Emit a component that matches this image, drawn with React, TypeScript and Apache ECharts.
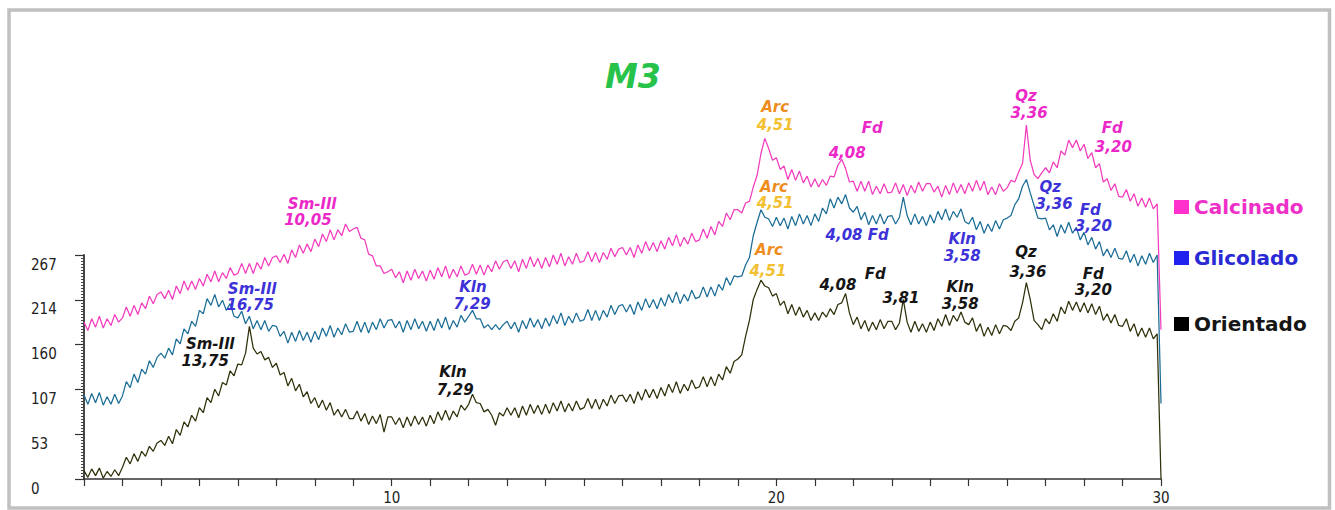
import React, { useEffect, useRef } from "react";
import * as echarts from "echarts";

// 2θ scale of the scan
const twoThetaStart = 2;
const twoThetaStep = 0.1;
const xLabelValues = [10, 20, 30];
const yTickLabels = ["0", "53", "107", "160", "214", "267"];
const seriesNames = ["Calcinado", "Glicolado", "Orientado"];

// intensities, one value every 0.1° from 2° to 30°
const calcinado = [
  187, 177, 191, 181, 194, 180, 191, 183, 196, 187,
  192, 205, 194, 207, 196, 210, 203, 218, 209, 220,
  223, 215, 225, 214, 230, 221, 236, 225, 236, 226,
  239, 230, 244, 235, 248, 235, 246, 239, 252, 243,
  245, 257, 245, 257, 245, 258, 250, 264, 254, 264,
  266, 258, 268, 257, 273, 264, 279, 269, 280, 271,
  286, 277, 292, 283, 297, 285, 297, 290, 304, 295,
  298, 300, 287, 285, 268, 266, 254, 254, 245, 247,
  250, 240, 247, 234, 248, 237, 250, 239, 248, 236,
  249, 238, 252, 241, 254, 239, 250, 241, 254, 243,
  245, 256, 244, 255, 243, 255, 247, 260, 250, 259,
  261, 251, 260, 247, 262, 251, 265, 253, 263, 251,
  264, 253, 267, 256, 269, 254, 265, 256, 269, 258,
  260, 271, 259, 270, 258, 270, 262, 275, 265, 274,
  276, 267, 276, 264, 279, 269, 283, 272, 282, 271,
  284, 274, 288, 278, 291, 277, 288, 280, 293, 283,
  285, 298, 287, 301, 291, 307, 301, 317, 309, 321,
  321, 317, 329, 331, 348, 362, 388, 406, 394, 380,
  383, 369, 373, 357, 369, 356, 367, 353, 361, 348,
  358, 348, 357, 350, 361, 360, 374, 381, 370, 354,
  355, 343, 355, 343, 355, 339, 349, 340, 352, 341,
  342, 353, 340, 351, 338, 350, 341, 354, 343, 352,
  352, 342, 349, 336, 350, 339, 353, 341, 351, 340,
  353, 343, 356, 344, 355, 339, 348, 339, 352, 343,
  347, 356, 354, 366, 376, 422, 380, 363, 358, 365,
  371, 365, 378, 371, 391, 386, 404, 395, 404, 391,
  399, 382, 389, 371, 376, 354, 358, 344, 352, 337,
  336, 345, 331, 340, 325, 335, 324, 335, 322, 328,
  178,
];

const glicolado = [
  100, 89, 102, 91, 103, 88, 98, 89, 101, 90,
  99, 116, 109, 125, 115, 131, 125, 141, 133, 145,
  150, 144, 156, 148, 167, 161, 179, 173, 188, 182,
  201, 197, 215, 207, 220, 205, 213, 201, 209, 194,
  192, 200, 185, 194, 179, 189, 178, 189, 176, 183,
  182, 170, 176, 162, 175, 164, 177, 165, 175, 163,
  176, 166, 180, 170, 183, 169, 180, 172, 185, 175,
  176, 188, 175, 187, 174, 187, 178, 191, 180, 189,
  190, 180, 188, 175, 189, 178, 191, 179, 188, 176,
  188, 177, 191, 180, 193, 178, 189, 181, 195, 187,
  194, 201, 191, 191, 180, 184, 178, 184, 178, 184,
  188, 179, 187, 175, 189, 179, 192, 181, 190, 179,
  192, 182, 195, 185, 198, 183, 194, 186, 198, 188,
  190, 202, 189, 201, 189, 201, 193, 207, 196, 206,
  208, 199, 208, 196, 211, 201, 215, 204, 214, 203,
  216, 206, 220, 210, 223, 209, 220, 212, 225, 215,
  217, 229, 217, 229, 218, 232, 225, 240, 231, 242,
  241, 242, 255, 264, 290, 306, 321, 312, 310, 301,
  312, 302, 311, 298, 313, 302, 316, 304, 314, 302,
  316, 307, 323, 316, 334, 323, 336, 328, 339, 323,
  318, 325, 309, 318, 303, 314, 304, 316, 304, 313,
  314, 304, 312, 336, 314, 303, 316, 304, 313, 302,
  315, 305, 319, 309, 322, 308, 319, 312, 322, 307,
  304, 312, 297, 307, 293, 304, 295, 308, 298, 309,
  311, 314, 327, 334, 349, 357, 341, 326, 311, 310,
  311, 297, 303, 289, 303, 293, 306, 293, 300, 285,
  294, 279, 288, 274, 283, 266, 274, 264, 275, 263,
  262, 272, 258, 268, 254, 266, 256, 269, 258, 267,
  90,
];

const orientado = [
  10, 2, 12, 4, 13, 1, 9, 3, 11, 4,
  14, 26, 18, 30, 21, 33, 27, 39, 33, 43,
  46, 40, 51, 42, 59, 52, 68, 62, 76, 69,
  85, 79, 97, 91, 107, 99, 115, 112, 129, 123,
  137, 136, 150, 182, 156, 149, 152, 142, 145, 133,
  138, 124, 127, 111, 120, 105, 113, 98, 104, 90,
  97, 85, 94, 82, 91, 76, 83, 74, 83, 72,
  72, 81, 69, 78, 65, 75, 66, 77, 56, 74,
  74, 65, 73, 61, 74, 63, 75, 65, 74, 63,
  76, 66, 80, 70, 82, 70, 81, 74, 88, 82,
  89, 101, 91, 90, 80, 83, 76, 64, 79, 75,
  85, 76, 85, 73, 87, 76, 89, 78, 88, 77,
  89, 78, 91, 81, 93, 80, 90, 81, 93, 83,
  85, 96, 84, 95, 83, 95, 87, 100, 90, 99,
  100, 92, 101, 90, 104, 94, 107, 97, 107, 96,
  109, 99, 113, 103, 116, 102, 113, 105, 118, 108,
  110, 122, 110, 122, 111, 125, 118, 134, 126, 140,
  143, 148, 170, 189, 214, 226, 237, 230, 228, 218,
  221, 207, 212, 197, 208, 195, 205, 193, 201, 189,
  198, 189, 199, 193, 203, 196, 208, 210, 221, 198,
  184, 193, 179, 189, 176, 187, 178, 190, 179, 188,
  188, 178, 186, 214, 187, 175, 188, 176, 185, 175,
  187, 177, 191, 182, 196, 183, 195, 188, 199, 187,
  184, 192, 176, 185, 170, 181, 171, 184, 173, 183,
  182, 177, 188, 192, 210, 234, 214, 189, 184, 178,
  191, 185, 197, 188, 205, 197, 212, 201, 211, 199,
  210, 198, 209, 196, 206, 189, 197, 186, 196, 183,
  182, 191, 176, 185, 170, 180, 169, 180, 167, 173,
  0,
];

// peak annotations: [text, 2θ, intensity, tone]
type Note = [string, number, number, string];
const calcinadoNotes: Note[] = [
  ["Sm-Ill", 7.93, 327.8, "pink"],
  ["10,05", 7.82, 308.7, "pink"],
  ["Arc", 19.97, 443.4, "orange"],
  ["4,51", 19.97, 421.8, "gold"],
  ["Fd", 22.49, 418.4, "pink"],
  ["4,08", 21.84, 388.6, "pink"],
  ["Qz", 26.49, 456.5, "pink"],
  ["3,36", 26.57, 436.3, "pink"],
  ["Fd", 28.73, 418.4, "pink"],
  ["3,20", 28.76, 395.7, "pink"],
];
const glicoladoNotes: Note[] = [
  ["Sm-Ill", 6.37, 226.8, "blue"],
  ["16,75", 6.32, 207.2, "blue"],
  ["Kln", 12.11, 228.4, "blue"],
  ["7,29", 12.09, 209.0, "blue"],
  ["Arc", 19.94, 348.2, "orange"],
  ["4,51", 19.97, 328.9, "gold"],
  ["4,08 Fd", 22.1, 290.8, "blue"],
  ["Kln", 24.83, 286.1, "blue"],
  ["3,58", 24.83, 265.8, "blue"],
  ["Qz", 27.12, 347.6, "blue"],
  ["3,36", 27.22, 328.3, "blue"],
  ["Fd", 28.16, 321.0, "blue"],
  ["3,20", 28.24, 301.4, "blue"],
];
const orientadoNotes: Note[] = [
  ["Sm-Ill", 5.28, 160.6, "black"],
  ["13,75", 5.15, 141.0, "black"],
  ["Kln", 11.59, 127.5, "black"],
  ["7,29", 11.65, 106.1, "black"],
  ["Arc", 19.81, 273.0, "orange"],
  ["4,51", 19.78, 247.9, "gold"],
  ["4,08", 21.6, 231.2, "black"],
  ["Fd", 22.57, 244.3, "black"],
  ["3,81", 23.24, 215.7, "black"],
  ["Kln", 24.78, 228.6, "black"],
  ["3,58", 24.78, 209.0, "black"],
  ["Qz", 26.49, 270.6, "black"],
  ["3,36", 26.54, 246.7, "black"],
  ["Fd", 28.24, 244.6, "black"],
  ["3,20", 28.24, 225.0, "black"],
];

const tones: Record<string, string> = {
  pink: "#ec28c8",
  blue: "#3d32d8",
  black: "#151515",
  orange: "#ee8c1c",
  gold: "#f2c030",
};

const lineColors = ["#f23cbe", "#1b6d96", "#30300a"];
const legendSquare = ["#ff30cc", "#2222ee", "#000000"];
const legendText = ["#ee30c8", "#2a2ad4", "#161616"];

const axisFont = "'Liberation Sans Narrow', 'DejaVu Sans Condensed', 'Liberation Sans', sans-serif";
const noteFont = "'DejaVu Sans', Verdana, sans-serif";

function toPairs(values: number[]) {
  return values.map((v, i) => [+(twoThetaStart + i * twoThetaStep).toFixed(2), v]);
}

function notesToMarks(notes: Note[]) {
  return notes.map(([text, x, y, tone]) => ({
    coord: [x, y],
    name: text,
    value: text,
    label: { formatter: text, color: tones[tone] },
  }));
}

export default function App() {
  const ref = useRef<HTMLDivElement>(null);

  useEffect(() => {
    if (!ref.current) return;
    const chart = echarts.init(ref.current, undefined, { renderer: "svg" });

    const W = 1335;
    const plotLeft = 84;
    const plotRight = W - 1161;
    const axisY = 479;
    const plotBottom = 510 - axisY;
    const axisTopPx = 255;
    const yAxisMax = 267;
    const pxPerUnit = (axisY - axisTopPx) / yAxisMax;
    const dataMax = 520;
    const dataTop = axisY - dataMax * pxPerUnit;

    const datasets = [calcinado, glicolado, orientado];
    const noteSets = [calcinadoNotes, glicoladoNotes, orientadoNotes];
    const legendCenters = [208, 259, 325];

    const series: any[] = [2, 1, 0].map((k) => ({
      name: seriesNames[k],
      type: "line",
      xAxisIndex: 0,
      yAxisIndex: 0,
      data: toPairs(datasets[k]),
      showSymbol: false,
      symbol: "none",
      silent: true,
      z: 3 + (2 - k),
      lineStyle: { color: lineColors[k], width: 1.25 },
      itemStyle: { color: lineColors[k] },
      emphasis: { disabled: true },
      markPoint: {
        silent: true,
        symbol: "circle",
        symbolSize: 1,
        itemStyle: { color: "rgba(0,0,0,0)" },
        label: {
          show: true,
          position: "inside",
          fontFamily: noteFont,
          fontSize: 15,
          lineHeight: 15,
          fontWeight: "bold",
          fontStyle: "italic",
        },
        data: notesToMarks(noteSets[k]),
      },
    }));

    const option: any = {
      animation: false,
      backgroundColor: "#ffffff",
      title: {
        text: "M3",
        left: 600,
        top: 55,
        textStyle: {
          fontFamily: noteFont,
          fontSize: 33,
          fontWeight: "bold",
          fontStyle: "italic",
          color: "#27c24a",
        },
      },
      legend: seriesNames.map((name, k) => ({
        left: 1174,
        top: legendCenters[k] - 11,
        padding: 0,
        icon: "rect",
        itemWidth: 15,
        itemHeight: 14,
        selectedMode: false,
        textStyle: {
          fontFamily: noteFont,
          fontSize: 20,
          fontWeight: "bold",
          color: legendText[k],
        },
        data: [{ name, itemStyle: { color: legendSquare[k] } }],
      })),
      graphic: [
        {
          type: "rect",
          silent: true,
          z: -10,
          shape: { x: 9, y: 10, width: 1320.5, height: 498 },
          style: { fill: "none", stroke: "#c0c0c0", lineWidth: 3.5 },
        },
      ],
      grid: [
        { left: plotLeft, right: plotRight, top: dataTop, bottom: plotBottom },
        { left: plotLeft, right: plotRight, top: axisTopPx, bottom: plotBottom },
      ],
      xAxis: [
        { gridIndex: 0, type: "value", min: 2, max: 30, show: false },
        {
          gridIndex: 1,
          type: "value",
          min: 2,
          max: 30,
          interval: 1,
          axisLine: { show: true, lineStyle: { color: "#333", width: 1.5 } },
          axisTick: { show: true, length: 7, lineStyle: { color: "#333", width: 1.2 } },
          axisLabel: {
            margin: 11,
            fontFamily: axisFont,
            fontSize: 15,
            color: "#222",
            formatter: (v: number) => (xLabelValues.includes(v) ? String(v) : ""),
          },
          splitLine: { show: false },
        },
      ],
      yAxis: [
        { gridIndex: 0, type: "value", min: 0, max: dataMax, show: false },
        {
          gridIndex: 1,
          type: "value",
          min: 0,
          max: yAxisMax,
          interval: 53.4,
          axisLine: { show: true, lineStyle: { color: "#333", width: 1.8 } },
          axisTick: { show: true, length: 9, lineStyle: { color: "#333", width: 1.2 } },
          minorTick: { show: true, splitNumber: 15, length: 3, lineStyle: { color: "#444", width: 1 } },
          axisLabel: {
            align: "left",
            verticalAlign: "top",
            padding: [2, 0, 0, 0],
            margin: 53,
            fontFamily: axisFont,
            fontSize: 15,
            color: "#222",
            formatter: (v: number, i: number) => yTickLabels[i] ?? String(Math.round(v)),
          },
          splitLine: { show: false },
        },
      ],
      series,
    };

    chart.setOption(option);
    return () => chart.dispose();
  }, []);

  return (
    <div
      ref={ref}
      style={{ position: "fixed", left: 0, top: 0, width: 1335, height: 510, background: "#fff" }}
    />
  );
}
